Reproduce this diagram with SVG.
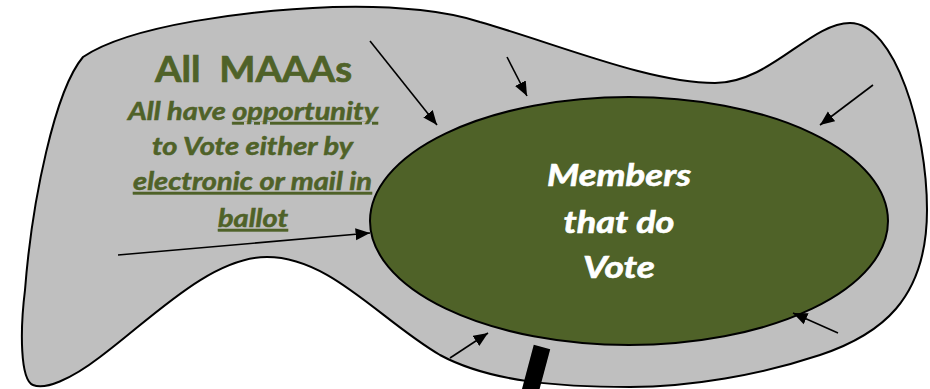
<svg xmlns="http://www.w3.org/2000/svg" width="930" height="389" viewBox="0 0 930 389">
  <style>
    .green { fill: #4F6228; stroke: #4F6228; stroke-width: 0.7; font-family: Lato, "Open Sans", "Liberation Sans", sans-serif; font-weight: bold; }
    .sub { font-style: italic; font-size: 24px; stroke-width: 0.5; }
    .white { fill: #FFFFFF; stroke: #FFFFFF; stroke-width: 0.6; font-family: Lato, "Open Sans", "Liberation Sans", sans-serif; font-weight: bold; font-style: italic; font-size: 30px; }
    .arrow { stroke: #000; stroke-width: 1.6; fill: none; marker-end: url(#head); }
    .u { text-decoration: underline; }
  </style>
  <defs>
    <marker id="head" viewBox="0 0 12 10" refX="12" refY="5" markerWidth="9" markerHeight="8" markerUnits="strokeWidth" orient="auto">
      <path d="M0,0 L12,5 L0,10 Z" fill="#000" stroke="none"/>
    </marker>
  </defs>
  <g id="all-maaas">
    <path d="M 83,57 C 130,25 250,10 333,7 C 400,5 450,12 480,22 C 560,45 650,83 715,83 C 770,83 810,23 850,23 C 895,23 927,130 927,210 C 927,300 880,335 820,355 C 760,375 690,387 630,387 C 560,387 490,382 440,355 C 380,320 330,257 267,257 C 210,257 150,320 100,357 C 70,380 45,390 33,385 C 20,380 20,330 25,290 C 32,200 55,90 83,57 Z" fill="#BFBFBF" stroke="#000" stroke-width="2"/>
    <text class="green" x="253.5" y="82" font-size="37" text-anchor="middle" textLength="197" lengthAdjust="spacingAndGlyphs" xml:space="preserve">All  MAAAs</text>
    <text class="green sub" x="253" y="120" text-anchor="middle" textLength="250" lengthAdjust="spacingAndGlyphs">All have <tspan class="u">opportunity</tspan></text>
    <text class="green sub" x="252.5" y="155" text-anchor="middle" textLength="201" lengthAdjust="spacingAndGlyphs">to Vote either by</text>
    <text class="green sub u" x="252.5" y="190" text-anchor="middle" textLength="239" lengthAdjust="spacingAndGlyphs">electronic or mail in</text>
    <text class="green sub u" x="253" y="227" text-anchor="middle" textLength="70" lengthAdjust="spacingAndGlyphs">ballot</text>
  </g>
  <g id="members-vote">
    <ellipse cx="629" cy="221" rx="259" ry="124" fill="#4F6228" stroke="#000" stroke-width="2"/>
    <text class="white" x="619" y="186" text-anchor="middle" textLength="144" lengthAdjust="spacingAndGlyphs">Members</text>
    <text class="white" x="619" y="233" text-anchor="middle" textLength="111" lengthAdjust="spacingAndGlyphs">that do</text>
    <text class="white" x="619" y="278" text-anchor="middle" textLength="72" lengthAdjust="spacingAndGlyphs">Vote</text>
  </g>
  <g id="connectors">
    <line class="arrow" x1="370" y1="41" x2="437" y2="125"/>
    <line class="arrow" x1="507" y1="57" x2="527" y2="96"/>
    <line class="arrow" x1="873" y1="85" x2="820" y2="125"/>
    <line class="arrow" x1="118" y1="255" x2="370" y2="233"/>
    <line class="arrow" x1="450" y1="358" x2="488" y2="333"/>
    <line class="arrow" x1="838" y1="333" x2="793" y2="313"/>
    <line x1="542" y1="347" x2="530" y2="392" stroke="#000" stroke-width="17"/>
  </g>
</svg>
